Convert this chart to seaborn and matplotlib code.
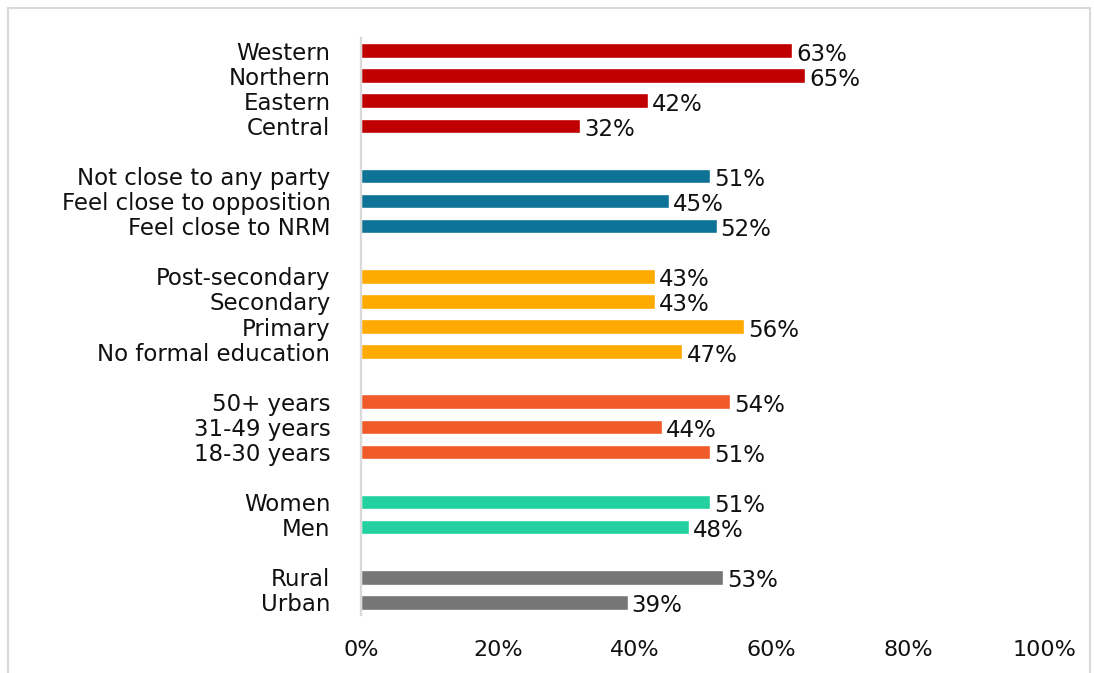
import matplotlib
matplotlib.use("Agg")
import matplotlib.pyplot as plt
import seaborn as sns
import pandas as pd
from matplotlib.patches import Rectangle

# ---------------------------------------------------
# Data
# ---------------------------------------------------
region_labels = ["Western", "Northern", "Eastern", "Central"]
region_values = [63, 65, 42, 32]

party_labels = ["Not close to any party", "Feel close to opposition", "Feel close to NRM"]
party_values = [51, 45, 52]

education_labels = ["Post-secondary", "Secondary", "Primary", "No formal education"]
education_values = [43, 43, 56, 47]

age_labels = ["50+ years", "31-49 years", "18-30 years"]
age_values = [54, 44, 51]

gender_labels = ["Women", "Men"]
gender_values = [51, 48]

location_labels = ["Rural", "Urban"]
location_values = [53, 39]

x_ticks = [0, 20, 40, 60, 80, 100]

groups = [
    ("region", region_labels, region_values, "#C00000"),
    ("party", party_labels, party_values, "#0E7396"),
    ("education", education_labels, education_values, "#FFAA00"),
    ("age", age_labels, age_values, "#F15A29"),
    ("gender", gender_labels, gender_values, "#22D0A0"),
    ("location", location_labels, location_values, "#767676"),
]

# ---------------------------------------------------
# Build table: one row per bar, blank slot between groups
# ---------------------------------------------------
rows = []
slot = 0
for name, labels, values, _ in groups:
    for lab, val in zip(labels, values):
        rows.append({"group": name, "label": lab, "value": val, "pos": slot})
        slot += 1
    slot += 1
df = pd.DataFrame(rows)
palette = {name: color for name, _, _, color in groups}

# ---------------------------------------------------
# Plot
# ---------------------------------------------------
sns.set_style("white")
plt.rcParams["font.family"] = ["DejaVu Sans"]

fig = plt.figure(figsize=(10.94, 6.73), dpi=100)
ax = fig.add_axes([0.33, 0.0862, 0.625, 0.8573])

sns.barplot(data=df, x="value", y="pos", hue="group", palette=palette,
            orient="y", native_scale=True, dodge=False, width=0.58,
            legend=False, ax=ax, saturation=1)

ax.set_ylim(slot - 1 - 0.5, -0.5)
ax.set_xlim(0, 100)
ax.set_yticks(df["pos"])
ax.set_yticklabels(df["label"], fontsize=16.5, color="#111111")
ax.set_xticks(x_ticks)
ax.set_xticklabels([f"{t}%" for t in x_ticks], fontsize=16, color="#111111")
ax.tick_params(axis="y", length=0, pad=22)
ax.tick_params(axis="x", length=0, pad=18)
ax.set_xlabel("")
ax.set_ylabel("")

for s in ["top", "right", "bottom"]:
    ax.spines[s].set_visible(False)
ax.spines["left"].set_color("#D9D9D9")
ax.spines["left"].set_linewidth(1.6)

# value labels
for _, r in df.iterrows():
    ax.text(r["value"] + 0.6, r["pos"] + 0.14, f"{r['value']}%",
            va="center", ha="left", fontsize=16.5, color="#111111")

# light frame around the chart
fig.patches.append(Rectangle((0.007, -0.01), 0.989, 0.998, transform=fig.transFigure,
                             fill=False, edgecolor="#D9D9D9", linewidth=1.5))

fig.savefig("out.png", dpi=100)
